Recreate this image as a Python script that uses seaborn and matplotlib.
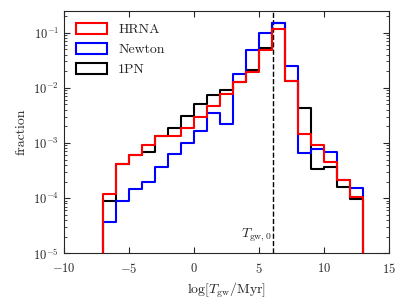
import numpy as np
import pandas as pd
import matplotlib
matplotlib.use("Agg")
import matplotlib.pyplot as plt
from matplotlib.patches import Patch
import seaborn as sns

# bin edges of log[T_gw/Myr], width 1
edges = np.arange(-7, 14, 1)
centers = edges[:-1] + 0.5

hrna = [1.18e-4, 4.08e-4, 6.01e-4, 9.12e-4, 1.33e-3, 1.33e-3, 1.87e-3, 2.90e-3,
        4.63e-3, 7.55e-3, 1.28e-2, 1.94e-2, 4.92e-2, 1.15e-1, 1.31e-2, 1.43e-3,
        9.12e-4, 4.46e-4, 2.16e-4, 1.06e-4]
newton = [3.73e-5, 8.85e-5, 1.44e-4, 1.98e-4, 3.61e-4, 6.19e-4, 9.79e-4, 1.66e-3,
          3.51e-3, 2.25e-3, 1.81e-2, 4.78e-2, 9.84e-2, 1.49e-1, 2.48e-2, 6.67e-4,
          7.62e-4, 6.90e-4, 2.16e-4, 1.50e-4]
pn1 = [8.85e-5, 4.08e-4, 6.01e-4, 6.90e-4, 1.33e-3, 1.87e-3, 3.05e-3, 5.03e-3,
       7.33e-3, 9.03e-3, 1.28e-2, 2.14e-2, 5.26e-2, 1.46e-1, 1.33e-2, 4.31e-3,
       3.31e-4, 3.69e-4, 1.60e-4, 9.48e-5]
labels = ['HRNA', 'Newton', '1PN']
colors = ['red', 'blue', 'black']
t_gw0 = 6.1

sns.set_style('ticks')
plt.rcParams['font.family'] = 'serif'
plt.rcParams['font.serif'] = ['cmr10']
plt.rcParams['mathtext.fontset'] = 'cm'
plt.rcParams['axes.formatter.use_mathtext'] = True
plt.rcParams['axes.unicode_minus'] = True

df = pd.DataFrame({'center': np.tile(centers, 3),
                   'fraction': np.concatenate([hrna, newton, pn1]),
                   'model': np.repeat(labels, len(centers))})

fig = plt.figure(figsize=(4.07, 3.03), dpi=100)
ax = fig.add_axes([0.157, 0.164, 0.799, 0.801])

# draw 1PN first, then Newton, HRNA on top
# one empty bin on each side so the outline drops to the bottom at the ends
for lab, col, z in [('1PN', 'black', 2), ('Newton', 'blue', 3), ('HRNA', 'red', 4)]:
    sub = df[df.model == lab]
    sns.histplot(data=sub, x='center', weights='fraction', binwidth=1,
                 binrange=(edges[0] - 1, edges[-1] + 1), element='step', fill=False,
                 color=col, lw=1.5, ax=ax, zorder=z)

ax.set_yscale('log')
ax.axvline(t_gw0, color='black', ls='--', lw=1)
ax.text(t_gw0 - 0.15, 1.45e-5, r'$T_{\rm gw,0}$', ha='right', va='bottom', fontsize=10)

ax.set_xlim(-10, 15)
ax.set_ylim(1e-5, 0.25)
ax.set_xticks([-10, -5, 0, 5, 10, 15])
ax.set_xlabel(r'$\log[T_{\rm gw}/{\rm Myr}]$', fontsize=10)
ax.set_ylabel('fraction', fontsize=10)
ax.tick_params(which='both', direction='in', top=True, right=True, labelsize=9)
ax.tick_params(axis='x', pad=6)
ax.tick_params(which='major', length=4)
ax.tick_params(which='minor', length=2)

handles = [Patch(facecolor='none', edgecolor=c, lw=1.5) for c in colors]
ax.legend(handles, labels, loc='upper left', frameon=False, fontsize=10,
          handlelength=2.2, handleheight=0.8)

fig.savefig('out.png', dpi=100)
